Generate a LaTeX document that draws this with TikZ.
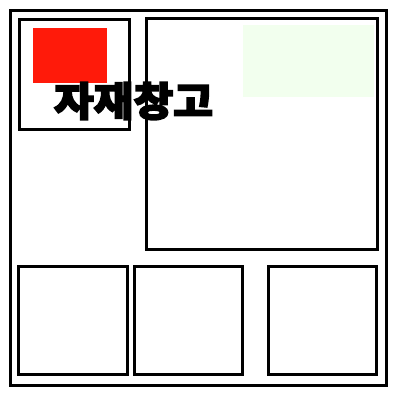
\documentclass[tikz,border=0pt]{standalone}
\usepackage{fontspec}
\newfontfamily\cjk[FakeBold=4, FakeStretch=1.08]{Noto Sans CJK KR}
\definecolor{palegreen}{RGB}{242,255,238}
\definecolor{boxred}{RGB}{255,26,10}
\begin{document}
\begin{tikzpicture}[x=1pt, y=-1pt, line width=3pt]
            \useasboundingbox (0,0) rectangle (400,400);
            % The outer wall
            \draw (10,10) rectangle (386,385);
            % Filled areas
            \fill [boxred] (33,28) rectangle (107,83);
            \fill [palegreen] (243,25) rectangle (374,97);
            % Upper rooms
            \draw (19,19) rectangle (129,129);
            \draw (146,18) rectangle (377,249);
            % The three lower rooms
            \foreach \xa/\xb in {18/127, 134/242, 268/376} {
              \draw (\xa,266) rectangle (\xb,374);
            }
            \node [font=\cjk\bfseries\fontsize{40}{40}\selectfont, inner sep=0pt] (label) at (133.5,101) {자재창고};
        \end{tikzpicture}
\end{document}
